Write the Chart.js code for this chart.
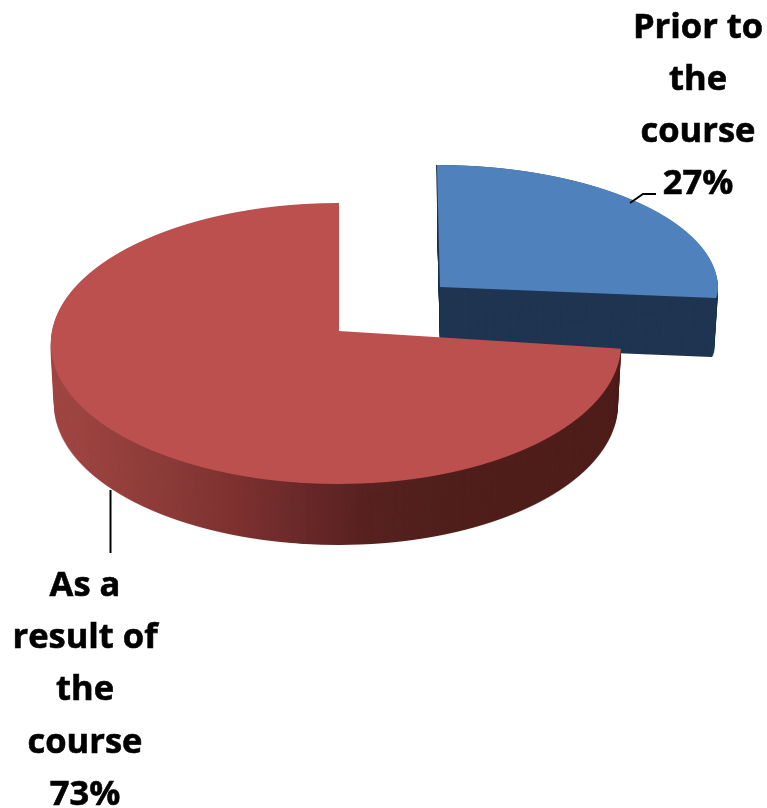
<!DOCTYPE html>
<html>
<head>
<meta charset="utf-8">
<title>Pie</title>
<script src="https://cdn.jsdelivr.net/npm/chart.js@4"></script>
<style>
  html, body { margin: 0; padding: 0; background: #fff; }
  canvas { display: block; }
</style>
</head>
<body>
<canvas id="pieChart" width="767" height="808"></canvas>
<script>
// ====== Data ======
const categories = ["Prior to the course", "As a result of the course"];
const percentages = [27, 73];
const labelLines = [
  ["Prior to", "the", "course"],
  ["As a", "result of", "the", "course"],
];

// ====== Look of the slices ======
const topColors = ["#4F81BD", "#BC504E"];
const FONT = "bold 34.5px 'Open Sans'";

// where each slice's tip sits and how far it reaches in each direction
const slices = [
  { x: 440, y: 287, left: 278, right: 278, up: 122, down: 88, lean: 3 / 122, depth: 59, narrow: 0.014, perspective: false },
  { x: 339, y: 331, left: 287, right: 281, up: 128, down: 153, lean: 0, depth: 61, narrow: 0.012, perspective: true },
];

const labelSpots = [
  { x: 698, y: 38, step: 52 },
  { x: 85, y: 596, step: 52.2 },
];

const leaders = [
  [[630, 203], [643, 194], [656, 194]],
  [[110.5, 490], [110.5, 553]],
];

// draw one arc row by row, each row with its own squash, so the circle
// comes out as a tilted disc with the tip off the ellipse centre
function drawSquashed(ctx, arc, s, color) {
  const R = arc.outerRadius;
  const saved = arc.options;
  arc.options = { ...saved, backgroundColor: color };
  const sides = s.left === s.right
    ? [[s.left, 0, 767]]
    : [[s.left, 0, s.x], [s.right, s.x, 767 - s.x]];
  for (let y = s.y - s.up - 2; y < s.y + s.down + 2; y++) {
    const yl = y + 0.5 - s.y;
    const a = s.perspective ? (2 * s.up * s.down) / (s.up + s.down) : (yl < 0 ? s.up : s.down);
    const b = s.perspective ? (s.down - s.up) / (s.down + s.up) : 0;
    const v = yl / (a + b * yl);
    if (Math.abs(v) > 1.02) continue;
    const w = 1 - b * v;
    const dydv = a / (w * w);
    sides.forEach(([rx, clipX, clipW]) => {
      ctx.save();
      ctx.beginPath();
      ctx.rect(clipX, y, clipW, 1);
      ctx.clip();
      ctx.translate(s.x + s.lean * yl, s.y + yl - dydv * v);
      ctx.scale(rx / w / R, dydv / R);
      ctx.translate(-arc.x, -arc.y);
      arc.draw(ctx);
      ctx.restore();
    });
  }
  arc.options = saved;
}

function sideFill(ctx, index) {
  if (index === 0) return "#1F3552";
  const g = ctx.createLinearGradient(50, 0, 621, 0);
  g.addColorStop(0, "#A24A47");
  g.addColorStop(0.12, "#9E4542");
  g.addColorStop(0.28, "#8D3C3A");
  g.addColorStop(0.42, "#7C312F");
  g.addColorStop(0.5, "#6E2B2B");
  g.addColorStop(0.62, "#592221");
  g.addColorStop(0.78, "#4F1F1C");
  g.addColorStop(1, "#4F1E1B");
  return g;
}

// ====== 3D slices plugin ======
const slices3d = {
  id: "slices3d",
  beforeDatasetDraw(chart) {
    const ctx = chart.ctx;
    const arcs = chart.getDatasetMeta(0).data;
    arcs.forEach((arc, i) => {
      const s = slices[i];
      // the wall is the same shape in the side colour, stacked downwards
      const off = document.createElement("canvas");
      off.width = chart.width;
      off.height = chart.height;
      const offCtx = off.getContext("2d");
      drawSquashed(offCtx, arc, s, sideFill(offCtx, i));
      for (let d = s.depth; d >= 1; d--) {
        const k = 1 - (s.narrow * d) / s.depth;
        ctx.drawImage(off, s.x * (1 - k), d, off.width * k, off.height);
      }
      if (i === 0) ctx.drawImage(off, -1, 0);
      drawSquashed(ctx, arc, s, topColors[i]);
    });
    return false;
  },
  afterDatasetsDraw(chart) {
    const ctx = chart.ctx;
    ctx.save();
    ctx.strokeStyle = "#000";
    ctx.lineWidth = 2;
    leaders.forEach((pts) => {
      ctx.beginPath();
      pts.forEach((p, k) => (k ? ctx.lineTo(p[0], p[1]) : ctx.moveTo(p[0], p[1])));
      ctx.stroke();
    });
    ctx.fillStyle = "#000";
    ctx.font = FONT;
    ctx.lineWidth = 0.6;
    ctx.textAlign = "center";
    ctx.textBaseline = "alphabetic";
    labelLines.forEach((lines, i) => {
      const spot = labelSpots[i];
      [...lines, percentages[i] + "%"].forEach((txt, k) => {
        ctx.fillText(txt, spot.x, spot.y + k * spot.step);
        ctx.strokeText(txt, spot.x, spot.y + k * spot.step);
      });
    });
    ctx.restore();
  },
};

// ====== Chart Initialization ======
new Chart(document.getElementById("pieChart"), {
  type: "pie",
  data: {
    labels: categories,
    datasets: [
      {
        data: percentages,
        backgroundColor: topColors,
        borderWidth: 0,
      },
    ],
  },
  options: {
    responsive: false,
    animation: false,
    radius: 300,
    plugins: {
      legend: { display: false },
      tooltip: { enabled: false },
    },
  },
  plugins: [slices3d],
});
</script>
</body>
</html>
